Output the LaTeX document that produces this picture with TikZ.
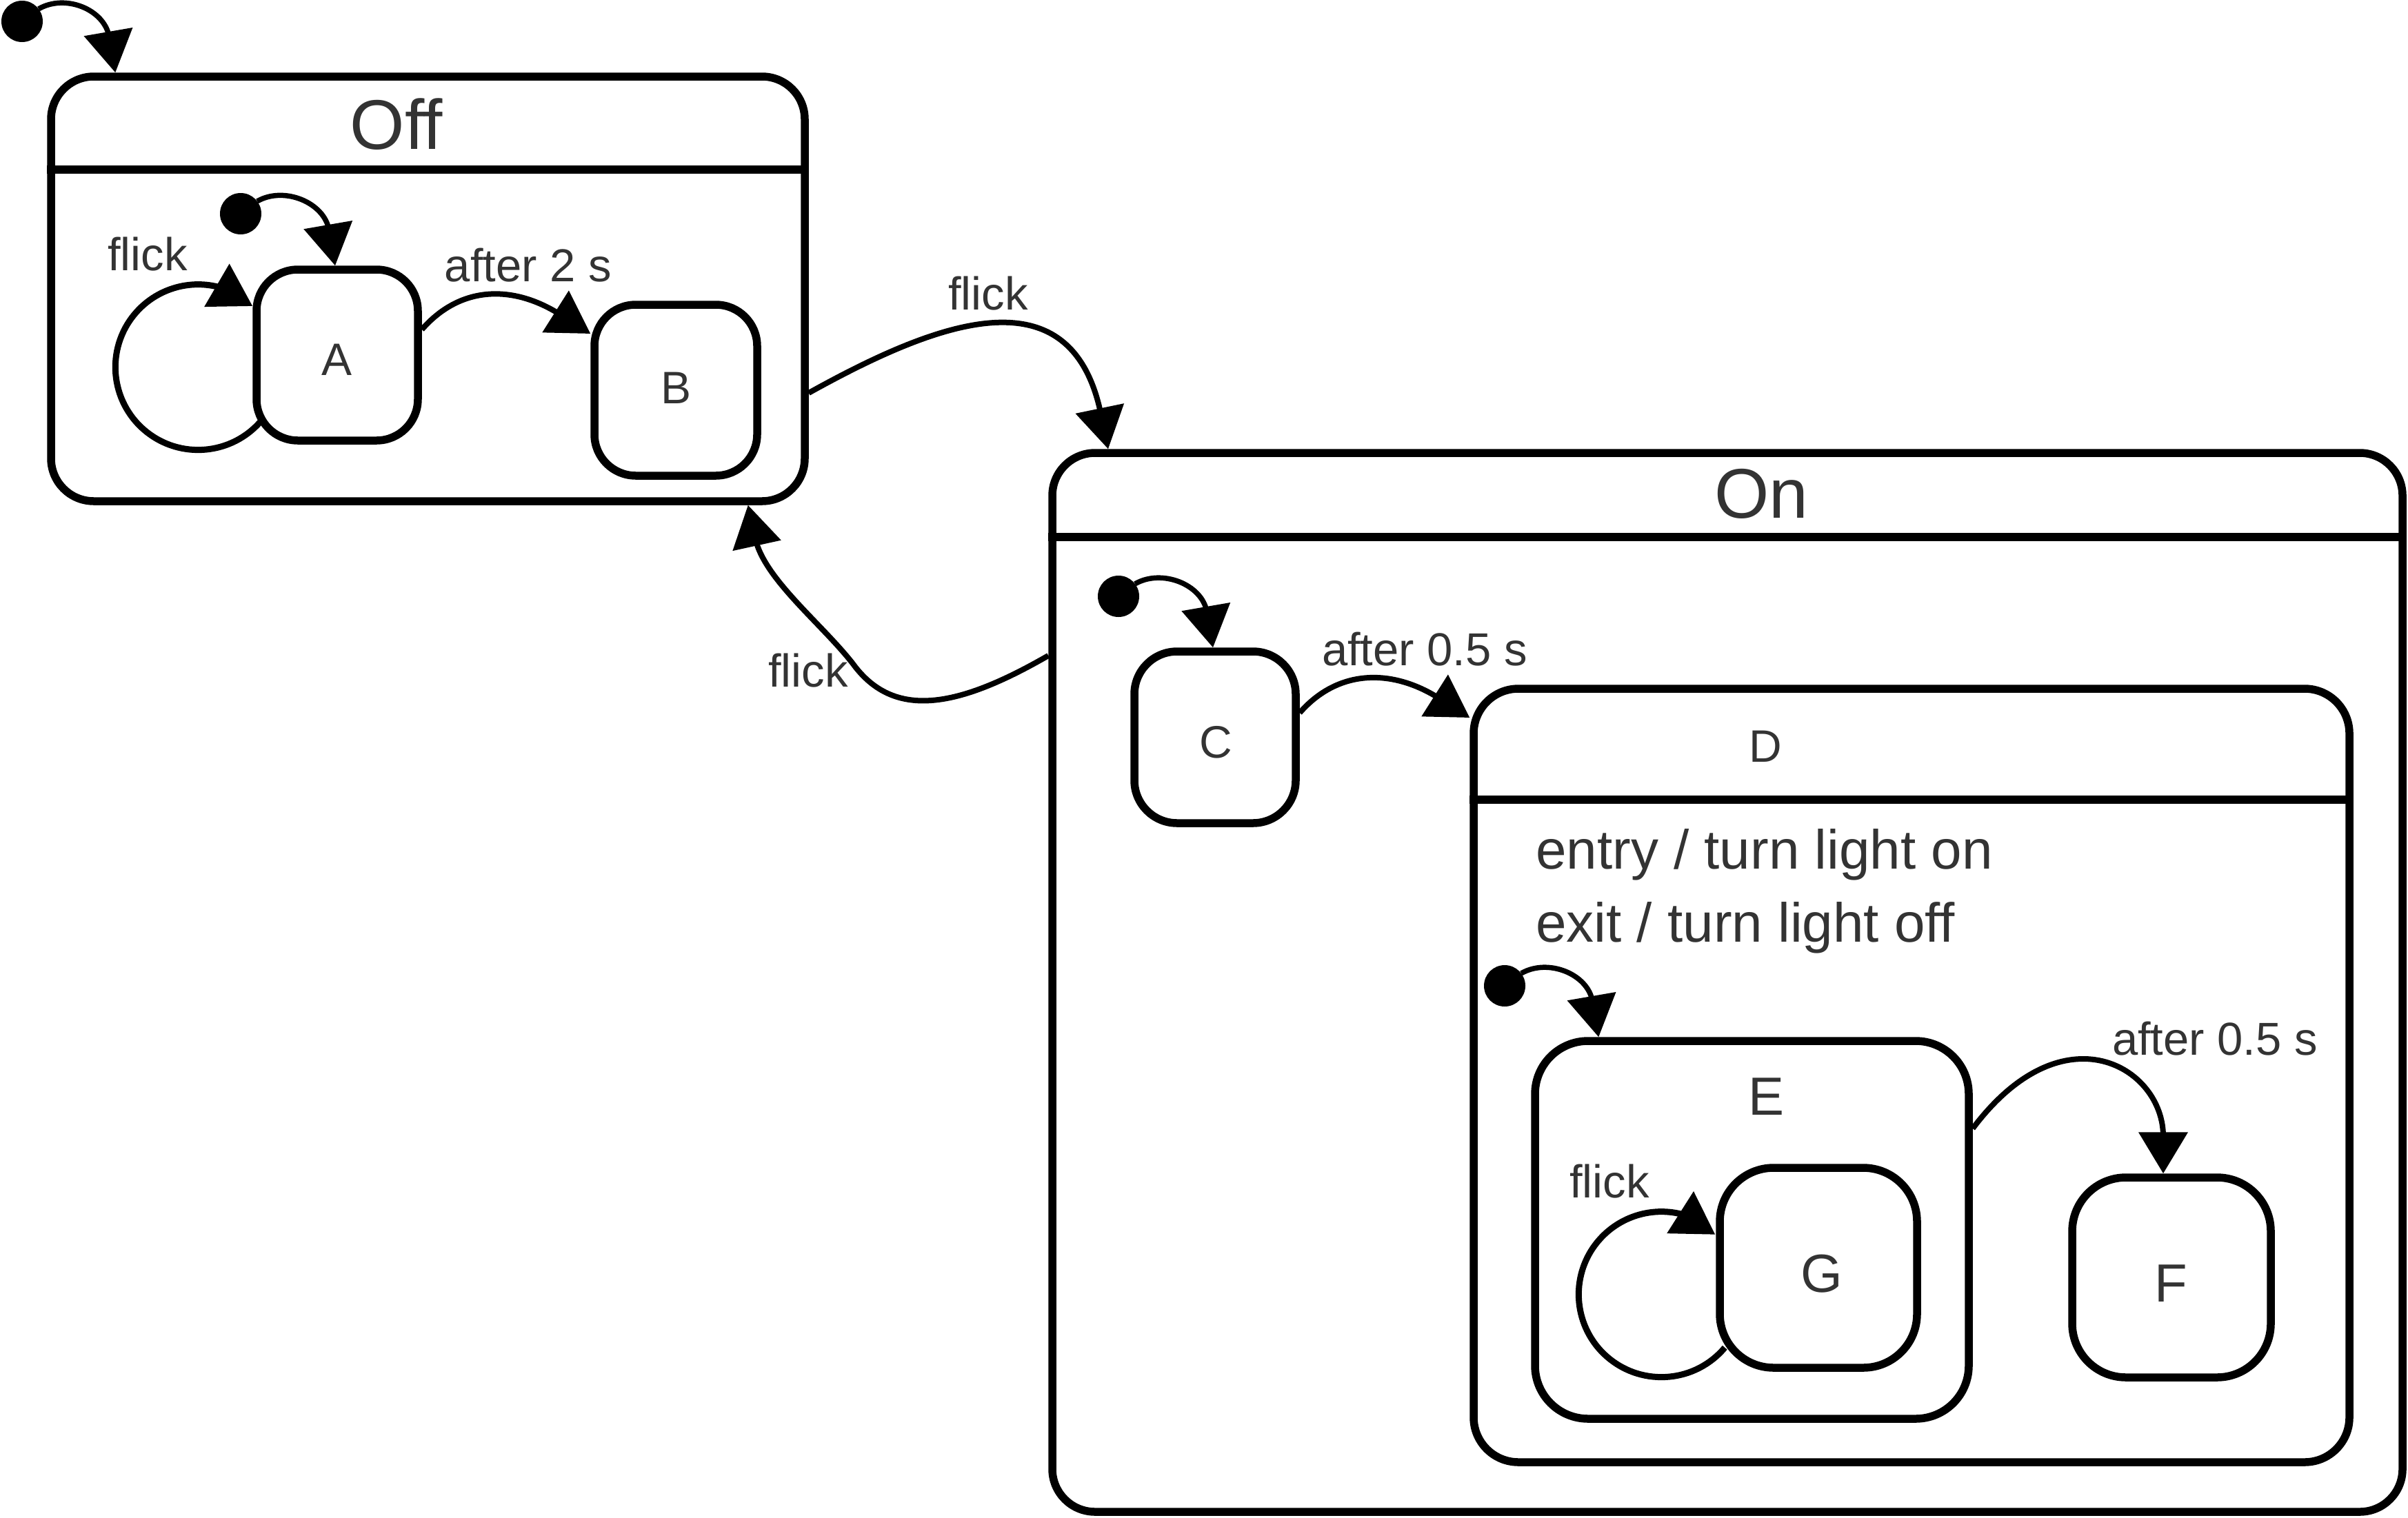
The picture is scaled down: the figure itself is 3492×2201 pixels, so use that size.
\documentclass[tikz,border=0pt]{standalone}
\usepackage{fontspec}
\setmainfont{Liberation Sans}
\usetikzlibrary{arrows.meta,calc}
\definecolor{txt}{HTML}{333333}
\begin{document}
\begin{tikzpicture}[x=1pt,y=1pt,
  stbox/.style={draw, rectangle, line width=11.5pt, inner sep=0pt},
  sepline/.style={line width=11.5pt},
  initdot/.style={circle, fill=black, minimum size=60pt, inner sep=0pt, outer sep=0pt},
  tr/.style={line width=8pt, -{Triangle[length=60pt,width=70pt]}},
  itr/.style={tr, line width=7.5pt},
  lp/.style={tr, line width=9pt},
  lbl/.style={font=\fontsize{67}{80}\selectfont, text=txt, inner sep=0pt, anchor=base},
  head/.style={font=\fontsize{102}{120}\selectfont, text=txt, inner sep=0pt, anchor=base},
  sml/.style={font=\fontsize{66}{80}\selectfont, text=txt, inner sep=0pt},
  big/.style={font=\fontsize{78}{90}\selectfont, text=txt, inner sep=0pt},
  act/.style={font=\fontsize{80}{96}\selectfont, text=txt, inner sep=0pt, anchor=base west}]
\useasboundingbox (0,0) rectangle (3492,-2201);

% states
\node[stbox, rounded corners=62pt, minimum width=1093pt, minimum height=616pt] (Off) at (620.5,-419) {};
\node[stbox, rounded corners=62pt, minimum width=1958pt, minimum height=1536pt] (On) at (2505,-1425) {};
\node[stbox, rounded corners=60pt, minimum width=234pt, minimum height=248pt] (A) at (489,-515) {};
\node[stbox, rounded corners=60pt, minimum width=236pt, minimum height=248pt] (B) at (980,-566) {};
\node[stbox, rounded corners=62pt, minimum width=234pt, minimum height=249pt] (C) at (1762,-1069.5) {};
\node[stbox, rounded corners=65pt, minimum width=1270pt, minimum height=1122pt] (D) at (2772,-1560) {};
\node[stbox, rounded corners=77pt, minimum width=629pt, minimum height=548pt] (E) at (2540.5,-1784) {};
\node[stbox, rounded corners=78pt, minimum width=286pt, minimum height=290pt] (G) at (2637,-1839) {};
\node[stbox, rounded corners=78pt, minimum width=288pt, minimum height=290pt] (F) at (3149,-1853) {};

% header separators
\draw[sepline] (Off.west |- 0,-246) -- (Off.east |- 0,-246);
\draw[sepline] (On.west |- 0,-779) -- (On.east |- 0,-779);
\draw[sepline] (D.west |- 0,-1160) -- (D.east |- 0,-1160);

% texts
\node[head] (tOff) at (575,-216) {Off};
\node[head] (tOn) at (2554,-751) {On};
\node[sml, anchor=base] (tD) at (2560,-1105) {D};
\node[big, anchor=base] (tE) at (2561,-1617) {E};
\node[sml] (tA) at (489,-522) {A};
\node[sml] (tB) at (980,-563) {B};
\node[sml] (tC) at (1763,-1077) {C};
\node[big] (tG) at (2642,-1848) {G};
\node[big] (tF) at (3148,-1862) {F};
\node[act] (entry) at (2227,-1260) {entry / turn light on};
\node[act] (exit) at (2227,-1366) {exit / turn light off};

% initial dots
\node[initdot] (i0) at (32,-31) {};
\node[initdot] (i1) at (349,-310) {};
\node[initdot] (i2) at (1622,-865) {};
\node[initdot] (i3) at (2182,-1430) {};

% initial transitions
\draw[itr] (i0.37) .. controls +(39,22.5) and +(-6.8,39.4) .. ([shift={(90,52)}]Off.north west) -- ([shift={(99,0)}]Off.north west);
\draw[itr] (i1.37) .. controls +(39,22.5) and +(-6.8,39.4) .. ([shift={(-12,52)}]A.north) -- ([shift={(-3,0)}]A.north);
\draw[itr] (i2.37) .. controls +(39,22.5) and +(-6.8,39.4) .. ([shift={(-12,52)}]C.north) -- ([shift={(-3,0)}]C.north);
\draw[itr] (i3.37) .. controls +(39,22.5) and +(-6.8,39.4) .. ([shift={(89,52)}]E.north west) -- ([shift={(98,0)}]E.north west);

% A -> B
\draw[tr] ([shift={(0,37)}]A.east) .. controls +(56,64) and +(-68,42.5) .. ([shift={(-45,110.5)}]B.west) -- ([shift={(0,82)}]B.west);
\node[lbl] (lAB) at (766,-408) {after 2 s};

% C -> D
\draw[tr] ([shift={(0,35.5)}]C.east) .. controls +(56,64) and +(-68,43) .. ([shift={(-44.5,547.2)}]D.west) -- ([shift={(0,519)}]D.west);
\node[lbl] (lCD) at (2066,-965) {after 0.5 s};

% Off -> On
\draw[tr] ([shift={(0,-151)}]Off.east) .. controls +(187,104) and +(-44,205) .. ([shift={(75.75,53)}]On.north west) -- ([shift={(86.75,0)}]On.north west);
\node[lbl] (lOffOn) at (1433,-449) {flick};

% On -> Off
\draw[tr] ([shift={(0,474)}]On.west) coordinate (s2)
  .. controls +(-130,-75) and +(60,-82) .. ($(s2)+(-283.25,-12)$) coordinate (k2)
  .. controls +(-45,58) and +(12.5,-58.7) .. ([shift={(-77.5,-48)}]Off.south east)
  -- ([shift={(-88,0)}]Off.south east);
\node[lbl] (lOnOff) at (1172,-996) {flick};

% E -> F
\draw[tr] ([shift={(0,147)}]E.east) .. controls +(132,176) and +(0,100) .. ([shift={(-12,54)}]F.north) -- ([shift={(-12,0)}]F.north);
\node[lbl] (lEF) at (3212,-1530) {after 0.5 s};

% self loops
\draw[lp] ([shift={(13,35)}]A.south west) arc[start angle=-40, end angle=-286, radius=120] -- ([shift={(0,200.75)}]A.south west);
\node[lbl] (lA) at (214,-392) {flick};
\draw[lp] ([shift={(13,35)}]G.south west) arc[start angle=-40, end angle=-286, radius=120] -- ([shift={(-1,199)}]G.south west);
\node[lbl] (lG) at (2334,-1737) {flick};
\end{tikzpicture}
\end{document}
